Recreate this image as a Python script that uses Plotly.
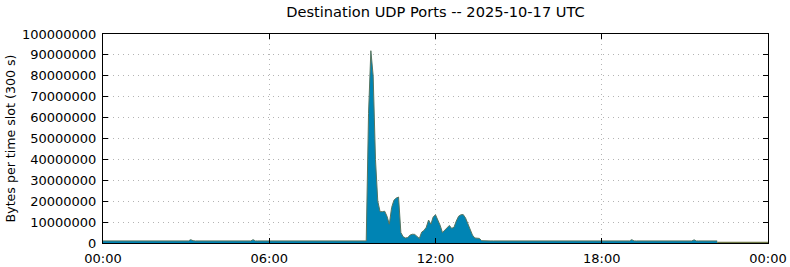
import numpy as np
import plotly.graph_objects as go

TITLE = "Destination UDP Ports -- 2025-10-17 UTC"
Y_TITLE = "Bytes per time slot (300 s)"
X_TICK_HOURS = [0, 6, 12, 18, 24]
X_TICK_LABELS = ["00:00", "06:00", "12:00", "18:00", "00:00"]

# Bytes per 5-minute slot, in millions, one line per hour (12 slots)
traffic_mb = [
    1.0, 1.0, 1.0, 1.0, 1.0, 1.0, 1.0, 1.0, 1.0, 1.0, 1.0, 1.0,   # 00h
    1.0, 1.0, 1.0, 1.0, 1.0, 1.0, 1.0, 1.0, 1.0, 1.0, 1.0, 1.0,   # 01h
    1.0, 1.0, 1.0, 1.0, 1.0, 1.0, 1.0, 1.0, 1.0, 1.0, 1.0, 1.0,   # 02h
    1.0, 1.0, 1.6, 1.1, 1.0, 1.0, 1.0, 1.0, 1.0, 1.0, 1.0, 1.0,   # 03h
    1.0, 1.0, 1.0, 1.0, 1.0, 1.0, 1.0, 1.0, 1.0, 1.0, 1.0, 1.0,   # 04h
    1.0, 1.0, 1.0, 1.0, 1.0, 1.6, 1.0, 1.0, 1.0, 1.0, 1.0, 1.0,   # 05h
    1.0, 1.0, 1.0, 1.0, 1.0, 1.0, 1.0, 1.0, 1.0, 1.0, 1.0, 1.0,   # 06h
    1.0, 1.0, 1.0, 1.0, 1.0, 1.0, 1.0, 1.0, 1.0, 1.0, 1.0, 1.0,   # 07h
    1.0, 1.0, 1.0, 1.0, 1.0, 1.0, 1.0, 1.0, 1.0, 1.0, 1.0, 1.0,   # 08h
    1.0, 1.0, 1.0, 1.0, 1.0, 1.0, 1.0, 62.0, 92.0, 80.0, 40.0, 20.0,   # 09h
    15.0, 15.0, 15.2, 12.8, 9.0, 17.0, 20.5, 21.5, 22.0, 5.0, 3.0, 2.4,   # 10h
    2.6, 3.8, 4.2, 4.1, 3.2, 2.2, 5.2, 6.0, 7.5, 11.0, 9.0, 12.5,   # 11h
    13.5, 11.0, 8.5, 5.0, 6.0, 7.2, 8.4, 7.0, 7.5, 10.5, 12.8, 13.5,   # 12h
    13.6, 12.0, 9.5, 7.0, 3.8, 2.4, 2.3, 2.2, 1.1, 1.0, 1.0, 1.0,   # 13h
    1.0, 1.0, 1.0, 1.0, 1.0, 1.0, 1.0, 1.0, 1.0, 1.0, 1.0, 1.0,   # 14h
    1.0, 1.0, 1.0, 1.0, 1.0, 1.0, 1.0, 1.0, 1.0, 1.0, 1.0, 1.0,   # 15h
    1.0, 1.0, 1.0, 1.0, 1.0, 1.0, 1.0, 1.0, 1.0, 1.0, 1.0, 1.0,   # 16h
    1.0, 1.0, 1.0, 1.0, 1.0, 1.0, 1.0, 1.0, 1.0, 1.0, 1.0, 1.0,   # 17h
    1.0, 1.0, 1.0, 1.0, 1.0, 1.0, 1.0, 1.0, 1.0, 1.0, 1.0, 1.0,   # 18h
    1.0, 1.6, 1.0, 1.0, 1.0, 1.0, 1.0, 1.0, 1.0, 1.0, 1.0, 1.0,   # 19h
    1.0, 1.0, 1.0, 1.0, 1.0, 1.0, 1.0, 1.0, 1.0, 1.0, 1.0, 1.0,   # 20h
    1.0, 1.0, 1.0, 1.0, 1.5, 1.0, 1.0, 1.0, 1.0, 1.0, 1.0, 1.0,   # 21h
    1.0, 1.0, 1.0,                                              # 22h (first slots)
]

# Residual traffic of the other series after the main one stops (millions)
tail_mb = [0.2, 0.2, 0.2, 0.2, 0.2, 0.2, 0.2, 0.2, 0.2, 0.2, 0.2, 0.2,
           0.2, 0.2, 0.2, 0.2, 0.2, 0.2, 0.2, 0.2, 0.2, 0.2, 0.2]

SLOT_H = 5 / 60
x_main = np.arange(len(traffic_mb)) * SLOT_H
tail_start = len(traffic_mb) - 1
x_tail = (tail_start + np.arange(len(tail_mb))) * SLOT_H

fig = go.Figure()
fig.add_trace(go.Scatter(
    x=x_main, y=np.array(traffic_mb) * 1e6, mode="lines",
    fill="tozeroy", fillcolor="#0084b4",
    line=dict(color="#557560", width=1), hoverinfo="skip", showlegend=False))
fig.add_trace(go.Scatter(
    x=x_tail, y=np.array(tail_mb) * 1e6, mode="lines",
    fill="tozeroy", fillcolor="#7a7a40",
    line=dict(color="#6f7a48", width=1.5), hoverinfo="skip", showlegend=False))

font_family = "DejaVu Sans"
fig.update_layout(
    width=790, height=267,
    margin=dict(l=103, r=22, t=34, b=24),
    paper_bgcolor="white", plot_bgcolor="white",
    font=dict(family=font_family, size=12, color="black"),
    title=dict(text=TITLE, x=(103 + 768) / 2 / 790, xanchor="center",
               y=1 - 11.5 / 267, yanchor="middle", automargin=False,
               font=dict(family=font_family, size=14.6, color="black")),
    xaxis=dict(range=[0, 24], tickvals=X_TICK_HOURS, ticktext=X_TICK_LABELS,
               showline=True, linecolor="black", linewidth=1, mirror="ticks",
               ticks="inside", ticklen=5, tickcolor="black", automargin=False,
               ticklabelstandoff=3,
               showgrid=True, gridcolor="#b4b4b4", griddash="1px,4px", gridwidth=1,
               zeroline=False, tickfont=dict(size=13)),
    yaxis=dict(range=[0, 100e6], dtick=10e6, tickformat="d",
               showline=True, linecolor="black", linewidth=1, mirror="ticks",
               ticks="inside", ticklen=5, tickcolor="black", automargin=False,
               ticklabelstandoff=3,
               showgrid=True, gridcolor="#b4b4b4", griddash="1px,4px", gridwidth=1,
               zeroline=False, tickfont=dict(size=13),
               title=dict(text=Y_TITLE, font=dict(size=12.6), standoff=3)),
)

fig.write_html("out.html")
